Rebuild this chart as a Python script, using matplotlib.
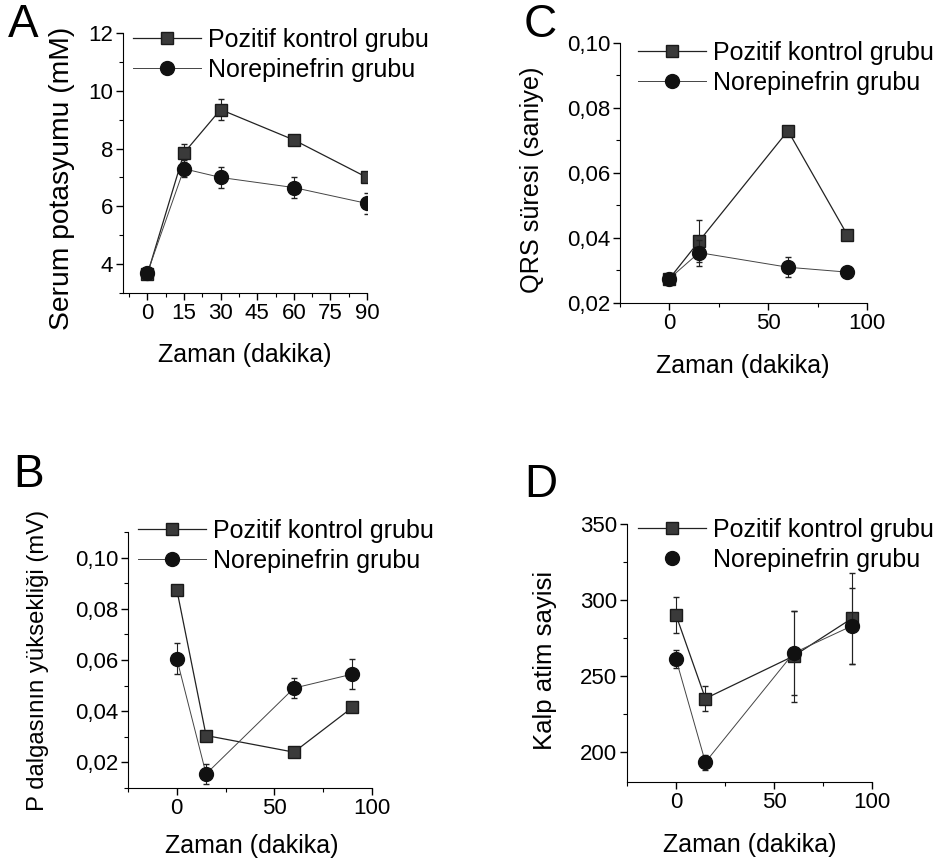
import matplotlib
matplotlib.use("Agg")
import matplotlib.pyplot as plt
from matplotlib.lines import Line2D
from matplotlib.ticker import MultipleLocator, FuncFormatter

plt.rcParams['font.family'] = ['Liberation Sans', 'DejaVu Sans']

# ---- data ----
pk_label = "Pozitif kontrol grubu"
ne_label = "Norepinefrin grubu"
x_label = "Zaman (dakika)"

# A: serum potassium
a_x = [0, 15, 30, 60, 90]
a_pk = [3.65, 7.85, 9.35, 8.3, 7.0]
a_pk_err = [0.1, 0.3, 0.35, 0.1, 0.1]
a_ne = [3.7, 7.3, 7.0, 6.65, 6.1]
a_ne_err = [0.1, 0.3, 0.35, 0.35, 0.35]

# C: QRS duration
c_x = [0, 15, 60, 90]
c_pk = [0.0275, 0.039, 0.073, 0.041]
c_pk_err = [0.001, 0.0065, 0.001, 0.001]
c_ne = [0.0275, 0.0355, 0.031, 0.0295]
c_ne_err = [0.001, 0.004, 0.003, 0.001]

# B: P wave height
b_x = [0, 15, 60, 90]
b_pk = [0.0875, 0.0305, 0.024, 0.0415]
b_pk_err = [0.001, 0.001, 0.001, 0.001]
b_ne = [0.0605, 0.0155, 0.049, 0.0545]
b_ne_err = [0.006, 0.004, 0.004, 0.006]

# D: heart rate
d_x = [0, 15, 60, 90]
d_pk = [290, 235, 263, 288]
d_pk_err = [12, 8, 30, 30]
d_ne = [261, 193, 265, 283]
d_ne_err = [6, 5, 28, 25]

W, H = 949, 865
fig = plt.figure(figsize=(W / 100, H / 100), dpi=100)

PK_STYLE = dict(color="#222222", lw=0.9, marker="s", ms=9, mfc="#3a3a3a", mec="#1a1a1a")
NE_STYLE = dict(color="#444444", lw=0.7, marker="o", ms=10, mfc="#111111", mec="#111111")


def fx(px):
    return px / W


def fy(py):
    return 1 - py / H


def add_axes(left, right, top, bottom):
    return fig.add_axes([fx(left), fy(bottom), (right - left) / W, (bottom - top) / H])


comma = FuncFormatter(lambda v, p: f"{v:.2f}".replace(".", ","))


def panel(ax, x, pk, pk_err, ne, ne_err, xl_pos):
    ax.errorbar(x, pk, yerr=pk_err, ecolor="#222222", elinewidth=0.8,
                capsize=2, zorder=3, **PK_STYLE)
    ax.errorbar(x, ne, yerr=ne_err, ecolor="#222222", elinewidth=0.8,
                capsize=2, zorder=4, **NE_STYLE)
    for s in ("top", "right"):
        ax.spines[s].set_visible(False)
    ax.tick_params(direction="out", length=5, width=1, labelsize=16, pad=2)
    ax.tick_params(which="minor", direction="out", length=3, width=0.8)
    ax.set_xlabel(x_label, fontsize=18)
    # xlabel is anchored at its top edge
    ax.xaxis.set_label_coords(fx(xl_pos[0]), fy(xl_pos[1] - 9), transform=fig.transFigure)


def ylabel(ax, text, size, cx, cy):
    ax.set_ylabel(text, fontsize=size)
    # anchor is the descender side of the rotated text
    off = 0.47 * size * 100 / 72
    ax.yaxis.set_label_coords(fx(cx + off), fy(cy), transform=fig.transFigure)


def legend(ax, x0, yc, ne_line=True):
    ne = dict(NE_STYLE)
    if not ne_line:
        ne["linestyle"] = "none"
    handles = [Line2D([], [], **PK_STYLE), Line2D([], [], **ne)]
    return ax.legend(handles, [pk_label, ne_label], loc="center left",
                     bbox_to_anchor=(fx(x0), fy(yc)),
                     bbox_transform=fig.transFigure, frameon=False, fontsize=18,
                     handlelength=2.7, handletextpad=0.3, labelspacing=0.25,
                     borderaxespad=0, borderpad=0)


def letter(ch, x, y):
    fig.text(fx(x), fy(y), ch, fontsize=33, va="top", ha="left")


# A
axA = add_axes(123, 367, 33, 293)
panel(axA, a_x, a_pk, a_pk_err, a_ne, a_ne_err, (245, 352))
axA.set_xlim(-10, 90)
axA.set_ylim(3, 12)
axA.xaxis.set_major_locator(MultipleLocator(15))
axA.xaxis.set_minor_locator(MultipleLocator(7.5))
axA.set_yticks([4, 6, 8, 10, 12])
axA.yaxis.set_minor_locator(MultipleLocator(1))
ylabel(axA, "Serum potasyumu (mM)", 20.3, 62, 178)
legend(axA, 133, 55)
letter("A", 8, 3)

# C
axC = add_axes(620, 867, 43, 303)
panel(axC, c_x, c_pk, c_pk_err, c_ne, c_ne_err, (743, 363))
axC.set_xlim(-25, 100)
axC.set_ylim(0.02, 0.10)
axC.xaxis.set_major_locator(MultipleLocator(50))
axC.xaxis.set_minor_locator(MultipleLocator(25))
axC.yaxis.set_major_locator(MultipleLocator(0.02))
axC.yaxis.set_minor_locator(MultipleLocator(0.01))
axC.yaxis.set_major_formatter(comma)
ylabel(axC, "QRS süresi (saniye)", 18.2, 532, 180)
legend(axC, 638, 68)
letter("C", 524, 3)

# B
axB = add_axes(128, 372, 532, 788)
panel(axB, b_x, b_pk, b_pk_err, b_ne, b_ne_err, (252, 843))
axB.set_xlim(-25, 100)
axB.set_ylim(0.01, 0.11)
axB.set_yticks([0.02, 0.04, 0.06, 0.08, 0.10])
axB.xaxis.set_major_locator(MultipleLocator(50))
axB.xaxis.set_minor_locator(MultipleLocator(25))
axB.yaxis.set_minor_locator(MultipleLocator(0.01))
axB.yaxis.set_major_formatter(comma)
ylabel(axB, "P dalgasının yüksekliği (mV)", 17.2, 38, 660)
legend(axB, 138, 546)
letter("B", 13, 453)

# D
axD = add_axes(627, 872, 524, 782)
panel(axD, d_x, d_pk, d_pk_err, d_ne, d_ne_err, (750, 842))
axD.set_xlim(-25, 100)
axD.set_ylim(180, 350)
axD.set_yticks([200, 250, 300, 350])
axD.xaxis.set_major_locator(MultipleLocator(50))
axD.xaxis.set_minor_locator(MultipleLocator(25))
axD.yaxis.set_minor_locator(MultipleLocator(25))
ylabel(axD, "Kalp atim sayisi", 18.5, 545, 660)
legend(axD, 638, 545, ne_line=False)
letter("D", 524, 463)

fig.savefig("out.png", dpi=100)
